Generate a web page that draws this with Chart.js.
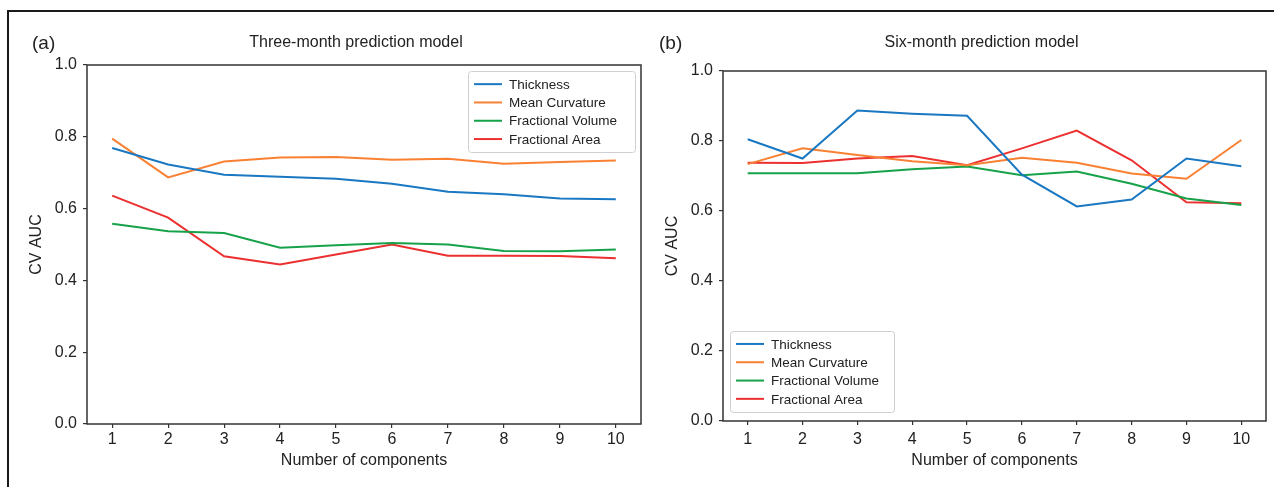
<!DOCTYPE html>
<html lang="en">
<head>
    <meta charset="UTF-8">
    <title>CV AUC by number of components</title>
    <script src="https://cdn.jsdelivr.net/npm/chart.js"></script>
    <style>
        html, body { margin: 0; padding: 0; background: #fff; overflow: hidden; }
        #page { position: relative; width: 1274px; height: 487px; overflow: hidden; }
        #frame { position: absolute; left: 7px; top: 10px; width: 1300px; height: 520px; border: 2px solid #1a1a1a; }
        canvas { position: absolute; top: 0; }
        #chartA { left: 0; }
        #chartB { left: 650px; }
    </style>
</head>
<body>
<div id="page">
    <div id="frame"></div>
    <canvas id="chartA" width="650" height="487"></canvas>
    <canvas id="chartB" width="624" height="487"></canvas>
</div>

<script>
    // Число компонентов (ось X)
    const components = [1, 2, 3, 4, 5, 6, 7, 8, 9, 10];
    const yTicks = [0.0, 0.2, 0.4, 0.6, 0.8, 1.0];
    const seriesNames = ['Thickness', 'Mean Curvature', 'Fractional Volume', 'Fractional Area'];

    // (a) Three-month prediction model
    const threeThickness = [0.769, 0.723, 0.694, 0.689, 0.683, 0.669, 0.647, 0.640, 0.628, 0.626];
    const threeCurvature = [0.795, 0.687, 0.731, 0.742, 0.744, 0.736, 0.739, 0.725, 0.730, 0.734];
    const threeVolume = [0.558, 0.537, 0.532, 0.491, 0.498, 0.504, 0.500, 0.482, 0.481, 0.486];
    const threeArea = [0.636, 0.575, 0.467, 0.444, 0.472, 0.500, 0.469, 0.469, 0.468, 0.462];

    // (b) Six-month prediction model
    const sixThickness = [0.805, 0.750, 0.887, 0.878, 0.872, 0.704, 0.613, 0.633, 0.750, 0.728];
    const sixCurvature = [0.734, 0.779, 0.760, 0.742, 0.731, 0.752, 0.738, 0.707, 0.692, 0.803];
    const sixVolume = [0.708, 0.708, 0.708, 0.719, 0.727, 0.702, 0.713, 0.678, 0.636, 0.617];
    const sixArea = [0.738, 0.737, 0.750, 0.757, 0.731, 0.779, 0.830, 0.745, 0.625, 0.622];

    const colors = ['#1a78c2', '#f98133', '#17a24a', '#ec3030'];
    const FONT = '"Liberation Sans", Arial, sans-serif';
    const INK = '#333';

    function makeDatasets(values) {
        return values.map((vals, i) => ({
            label: seriesNames[i],
            data: components.map((c, j) => ({ x: c, y: vals[j] })),
            borderColor: colors[i],
            backgroundColor: colors[i],
            borderWidth: 2,
            pointRadius: 0,
            tension: 0,
            fill: false
        }));
    }

    // рамка вокруг области графика + заголовок + буква панели
    const panelPlugin = {
        id: 'panel',
        afterDraw(chart, args, opts) {
            const { ctx, chartArea: a } = chart;
            ctx.save();
            ctx.strokeStyle = INK;
            ctx.lineWidth = 1.5;
            ctx.strokeRect(a.left, a.top, a.right - a.left, a.bottom - a.top);

            ctx.fillStyle = '#222';
            ctx.textBaseline = 'middle';
            ctx.textAlign = 'center';
            ctx.font = '16px ' + FONT;
            ctx.fillText(opts.title, (a.left + a.right) / 2 + opts.titleShift, 43);

            ctx.textAlign = 'left';
            ctx.font = '19px ' + FONT;
            ctx.fillText(opts.letter, opts.letterX, 44);
            ctx.restore();
        }
    };

    // легенда внутри области графика
    const boxLegendPlugin = {
        id: 'boxLegend',
        afterDraw(chart, args, opts) {
            const { ctx, chartArea: a } = chart;
            const sets = chart.data.datasets;
            ctx.save();
            ctx.font = '13.5px ' + FONT;
            const pad = 6, lineLen = 28, gap = 7, rowH = 18.3;
            const w = opts.width;
            const h = rowH * sets.length + 8;
            let x, y;
            if (opts.corner === 'topRight') {
                x = a.right - opts.dx - w;
                y = a.top + opts.dy;
            } else {
                x = a.left + opts.dx;
                y = a.bottom - opts.dy - h;
            }
            ctx.fillStyle = 'rgba(255,255,255,0.85)';
            ctx.strokeStyle = '#cfcfcf';
            ctx.lineWidth = 1;
            ctx.beginPath();
            ctx.roundRect(Math.round(x) + 0.5, Math.round(y) + 0.5, w, Math.round(h), 3);
            ctx.fill();
            ctx.stroke();
            ctx.textBaseline = 'middle';
            ctx.textAlign = 'left';
            sets.forEach((d, i) => {
                const cy = y + 4 + rowH * i + rowH / 2;
                ctx.strokeStyle = d.borderColor;
                ctx.lineWidth = 2;
                ctx.beginPath();
                ctx.moveTo(x + pad, cy);
                ctx.lineTo(x + pad + lineLen, cy);
                ctx.stroke();
                ctx.fillStyle = '#222';
                ctx.fillText(d.label, x + pad + lineLen + gap, cy + 1);
            });
            ctx.restore();
        }
    };

    function makeChart(id, values, cfg) {
        return new Chart(document.getElementById(id), {
            type: 'line',
            data: { datasets: makeDatasets(values) },
            plugins: [panelPlugin, boxLegendPlugin],
            options: {
                responsive: false,
                animation: false,
                devicePixelRatio: 1,
                layout: { padding: { top: cfg.top, right: cfg.right, left: 0, bottom: 0 } },
                plugins: {
                    legend: { display: false },
                    tooltip: { enabled: false },
                    panel: { title: cfg.title, titleShift: cfg.titleShift, letter: cfg.letter, letterX: cfg.letterX },
                    boxLegend: cfg.legend
                },
                scales: {
                    x: {
                        type: 'linear',
                        min: 0.55,
                        max: 10.45,
                        afterBuildTicks: s => { s.ticks = components.map(v => ({ value: v })); },
                        afterFit: s => { s.height = cfg.xHeight; },
                        border: { display: false },
                        grid: { drawOnChartArea: false, drawTicks: true, tickLength: 4, color: INK, lineWidth: 1.2 },
                        ticks: { color: '#222', font: { family: FONT, size: 16 }, padding: cfg.xTickPad, maxRotation: 0 },
                        title: { display: true, text: 'Number of components', color: '#222',
                                 font: { family: FONT, size: 16 }, padding: { top: 0, bottom: 17 } }
                    },
                    y: {
                        min: 0,
                        max: 1,
                        afterBuildTicks: s => { s.ticks = yTicks.map(v => ({ value: v })); },
                        afterFit: s => { s.width = cfg.yWidth; },
                        border: { display: false },
                        grid: { drawOnChartArea: false, drawTicks: true, tickLength: 4, color: INK, lineWidth: 1.2 },
                        ticks: { color: '#222', font: { family: FONT, size: 16 }, padding: 6,
                                 callback: v => v.toFixed(1) },
                        title: { display: true, text: 'CV AUC', color: '#222',
                                 font: { family: FONT, size: 16 }, padding: { top: cfg.yTitlePad, bottom: 0 } }
                    }
                }
            }
        });
    }

    makeChart('chartA', [threeThickness, threeCurvature, threeVolume, threeArea], {
        title: 'Three-month prediction model', titleShift: -8, letter: '(a)', letterX: 32,
        top: 65, right: 9, xHeight: 63, yWidth: 87, yTitlePad: 27, xTickPad: 2,
        legend: { corner: 'topRight', dx: 6, dy: 6, width: 167 }
    });

    makeChart('chartB', [sixThickness, sixCurvature, sixVolume, sixArea], {
        title: 'Six-month prediction model', titleShift: -13, letter: '(b)', letterX: 9,
        top: 71, right: 8, xHeight: 66, yWidth: 73, yTitlePad: 13, xTickPad: 5,
        legend: { corner: 'bottomLeft', dx: 7, dy: 9, width: 164 }
    });
</script>
</body>
</html>
